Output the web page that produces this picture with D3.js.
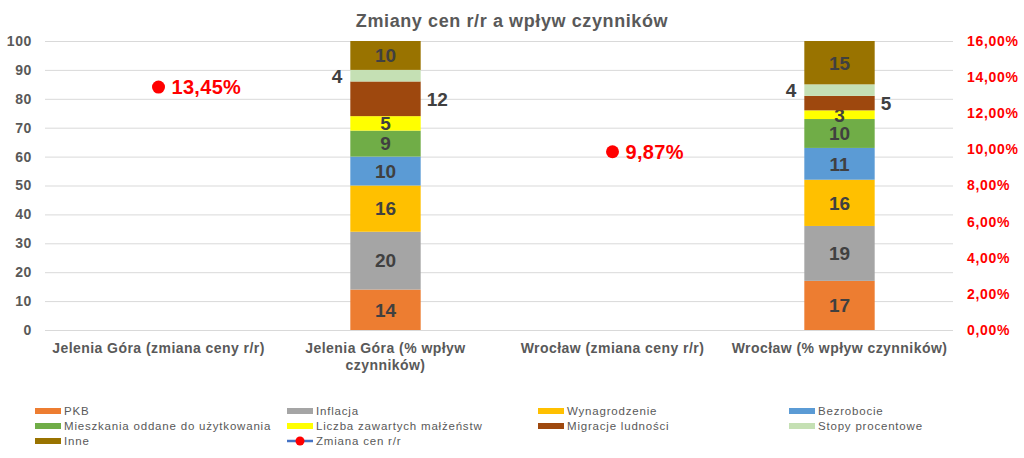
<!DOCTYPE html>
<html><head><meta charset="utf-8">
<script src="https://cdn.jsdelivr.net/npm/d3@7"></script>
<style>
body{margin:0;background:#fff;}
text{font-family:"Liberation Sans",Arial,sans-serif;}
</style></head>
<body><svg id="c" width="1024" height="458"></svg>
<script>
const categories = ["Jelenia Góra (zmiana ceny r/r)", "Jelenia Góra (% wpływ czynników)", "Wrocław (zmiana ceny r/r)", "Wrocław (% wpływ czynników)"];
const seriesNames = ["PKB","Inflacja","Wynagrodzenie","Bezrobocie","Mieszkania oddane do użytkowania","Liczba zawartych małżeństw","Migracje ludności","Stopy procentowe","Inne"];
const PKB = [null,14,null,17];
const Inflacja = [null,20,null,19];
const Wynagrodzenie = [null,16,null,16];
const Bezrobocie = [null,10,null,11];
const Mieszkania = [null,9,null,10];
const Malzenstwa = [null,5,null,3];
const Migracje = [null,12,null,5];
const Stopy = [null,4,null,4];
const Inne = [null,10,null,15];
const zmianaCen = [13.45,null,9.87,null];
const lineName = "Zmiana cen r/r";
const leftTicks = [0,10,20,30,40,50,60,70,80,90,100];
const rightTicks = [0,2,4,6,8,10,12,14,16];
const title = "Zmiany cen r/r a wpływ czynników";

const seriesValues = [PKB,Inflacja,Wynagrodzenie,Bezrobocie,Mieszkania,Malzenstwa,Migracje,Stopy,Inne];
const colors = ["#ED7D31","#A5A5A5","#FFC000","#5B9BD5","#70AD47","#FFFF00","#9E480E","#C5E0B4","#997300"];
const labelPlace = ["in","in","in","in","in","in","right","left","in"];

const svg = d3.select("#c");
const L=45, R=953, T=41, B=330;
const x = d3.scaleBand().domain(categories).range([L,R]).paddingInner(0.69).paddingOuter(0.345);
const y = d3.scaleLinear().domain([0,100]).range([B,T]);
const y2 = d3.scaleLinear().domain([0,16]).range([B,T]);

svg.append("text").attr("x",512).attr("y",27).attr("text-anchor","middle")
  .attr("font-size",18).attr("letter-spacing","0.6px").attr("font-weight","bold").attr("fill","#595959").text(title);

// gridlines
svg.append("g").selectAll("line").data(leftTicks).join("line")
  .attr("x1",L).attr("x2",R).attr("y1",d=>y(d)+0.5).attr("y2",d=>y(d)+0.5)
  .attr("stroke","#d9d9d9").attr("stroke-width",1);

// left axis
const ga = svg.append("g").attr("transform",`translate(${L},0)`)
  .call(d3.axisLeft(y).tickValues(leftTicks).tickSize(0).tickPadding(13));
ga.select(".domain").remove();
ga.selectAll("text").attr("font-size",14).attr("letter-spacing","0.6px").attr("font-weight","bold").attr("fill","#595959")
  .attr("font-family","Liberation Sans, Arial, sans-serif");

// right axis
const gr = svg.append("g").attr("transform",`translate(${R},0)`)
  .call(d3.axisRight(y2).tickValues(rightTicks).tickSize(0).tickPadding(14)
    .tickFormat(d=>d3.format(".2f")(d).replace(".",",")+"%"));
gr.select(".domain").remove();
gr.selectAll("text").attr("font-size",14).attr("letter-spacing","0.7px").attr("font-weight","bold").attr("fill","#FF0000")
  .attr("font-family","Liberation Sans, Arial, sans-serif");

// x axis labels
const gx = svg.append("g").attr("transform",`translate(0,${B})`)
  .call(d3.axisBottom(x).tickSize(0).tickPadding(13));
gx.select(".domain").remove();
gx.selectAll("text").attr("font-size",14).attr("letter-spacing","0.45px").attr("font-weight","bold").attr("fill","#595959")
  .attr("font-family","Liberation Sans, Arial, sans-serif")
  .each(function(d){
    const t=d3.select(this);
    const maxW = x.step()-4;
    if(this.getComputedTextLength()>maxW){
      const words=d.split(" ");
      let line=[],lines=[];
      t.text("");
      const tmp=t.append("tspan");
      for(const w of words){
        line.push(w); tmp.text(line.join(" "));
        if(tmp.node().getComputedTextLength()>maxW && line.length>1){
          line.pop(); lines.push(line.join(" ")); line=[w];
        }
      }
      lines.push(line.join(" "));
      tmp.remove();
      const dy=t.attr("dy");
      lines.forEach((s,i)=>t.append("tspan").attr("x",0).attr("dy",i===0?dy:"1.22em").text(s));
    }
  });

// stacked bars
const rows = categories.map((c,i)=>{const o={cat:c}; seriesNames.forEach((s,j)=>o[s]=seriesValues[j][i]||0); return o;});
const stacked = d3.stack().keys(seriesNames)(rows);
stacked.forEach((layer,j)=>{
  const g = svg.append("g");
  layer.forEach((d,i)=>{
    const v = seriesValues[j][i];
    if(v==null) return;
    const x0=x(categories[i]), w=x.bandwidth();
    g.append("rect").attr("x",x0).attr("width",w).attr("y",y(d[1])).attr("height",y(d[0])-y(d[1])).attr("fill",colors[j]);
    const cy=(y(d[0])+y(d[1]))/2;
    let tx=x0+w/2, anchor="middle";
    if(labelPlace[j]==="left"){tx=x0-8;anchor="end";}
    if(labelPlace[j]==="right"){tx=x0+w+6;anchor="start";}
    g.append("text").attr("x",tx).attr("y",cy).attr("dy","0.36em").attr("text-anchor",anchor)
      .attr("font-size",19).attr("font-weight","bold").attr("fill","#404040").text(v);
  });
});

// line series points
const pts = categories.map((c,i)=>({c,v:zmianaCen[i]})).filter(d=>d.v!=null);
const lineGen = d3.line().defined(d=>d.v!=null).x(d=>x(d.c)+x.bandwidth()/2).y(d=>y2(d.v));
svg.append("path").datum(categories.map((c,i)=>({c,v:zmianaCen[i]}))).attr("d",lineGen)
  .attr("fill","none").attr("stroke","#4472C4").attr("stroke-width",2.5);
svg.append("g").selectAll("circle").data(pts).join("circle")
  .attr("cx",d=>x(d.c)+x.bandwidth()/2).attr("cy",d=>y2(d.v)).attr("r",6.5).attr("fill","#FF0000");
svg.append("g").selectAll("text").data(pts).join("text")
  .attr("x",d=>x(d.c)+x.bandwidth()/2+13).attr("y",d=>y2(d.v)).attr("dy","0.36em")
  .attr("font-size",20).attr("letter-spacing","0.3px").attr("font-weight","bold").attr("fill","#FF0000")
  .text(d=>d3.format(".2f")(d.v).replace(".",",")+"%");

// legend
const legendItems = seriesNames.map((s,j)=>({name:s,color:colors[j],type:"rect"})).concat([{name:lineName,type:"line"}]);
const colX=[35,287,538,789], rowY=[411,426,441];
const lg = svg.append("g");
legendItems.forEach((it,k)=>{
  const cx=colX[k%4], cy=rowY[Math.floor(k/4)];
  const g=lg.append("g").attr("transform",`translate(${cx},${cy})`);
  if(it.type==="rect"){
    g.append("rect").attr("x",0).attr("y",-3).attr("width",26).attr("height",6).attr("fill",it.color);
  } else {
    g.append("line").attr("x1",0).attr("x2",26).attr("y1",0).attr("y2",0).attr("stroke","#4472C4").attr("stroke-width",2.5);
    g.append("circle").attr("cx",13).attr("cy",0).attr("r",4.5).attr("fill","#FF0000");
  }
  g.append("text").attr("x",29).attr("y",0).attr("dy","0.35em").attr("font-size",11.5).attr("letter-spacing","0.8px")
    .attr("fill","#595959").text(it.name);
});
</script></body></html>
